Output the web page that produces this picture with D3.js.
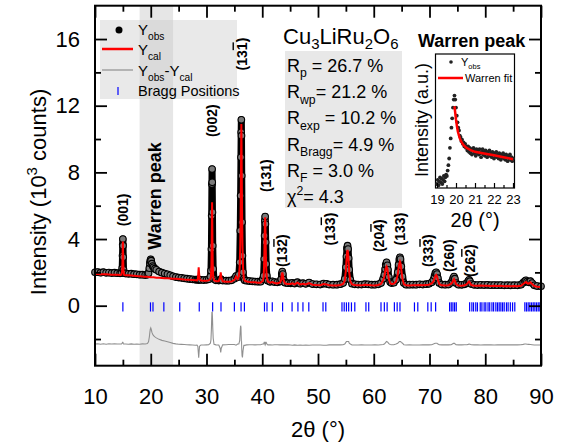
<!DOCTYPE html>
<html>
<head>
<meta charset="utf-8">
<script src="https://cdn.jsdelivr.net/npm/d3@7"></script>
<style>
body{margin:0;background:#fff;}
svg{font-family:"Liberation Sans",Arial,sans-serif;}
</style>
</head>
<body>
<div id="chart"></div>
<script>
// 2theta grid (deg), calculated and observed intensity (10^3 counts)
var tt = [10,10.5,11,11.5,12,12.5,13,13.5,14,14.5,
  14.75,14.88,14.94,14.97,15.0,15.03,15.06,15.12,15.25,
  15.5,16,16.5,17,17.5,18,18.5,19,19.4,
  19.6,19.75,19.85,19.92,20.0,20.08,20.2,20.35,20.5,20.75,21,21.5,22,22.5,23,23.5,24,
  24.5,25,25.5,26,26.5,27,27.5,28,28.3,
  28.45,28.55,28.6,28.65,28.75,
  29,29.5,30,30.4,30.7,
  30.8,30.88,30.93,30.97,31.0,31.03,31.07,31.12,31.2,31.35,
  31.7,32.2,32.45,32.55,32.65,32.9,
  33.5,34,34.5,35,35.3,35.6,
  35.8,35.95,36.05,36.12,36.18,36.22,36.25,36.28,36.32,36.38,36.45,36.55,36.7,36.85,
  37.2,37.7,38.2,38.7,39.2,39.7,40.1,
  40.25,40.35,40.42,40.47,40.52,40.57,40.62,40.7,40.82,41.0,
  41.4,41.8,42.2,42.7,43.2,
  43.4,43.5,43.6,43.7,43.85,44.1,
  44.6,45.1,45.4,45.8,46.3,46.8,47.3,47.8,48.4,49,49.7,50.4,51,51.5,52,52.7,53.4,54,54.5,
  54.8,55.0,55.1,55.2,55.3,55.4,55.5,55.6,55.8,56.1,
  56.6,57.2,57.8,58.4,59.0,59.6,60.2,60.8,61.3,61.7,
  61.9,62.05,62.15,62.3,62.45,62.55,62.7,62.95,
  63.2,63.6,64.0,64.3,
  64.45,64.6,64.7,64.8,64.95,65.15,65.4,
  65.8,66.4,67.0,67.6,68.2,68.8,69.4,69.9,70.4,
  70.7,70.9,71.05,71.2,71.35,71.5,71.75,
  72.2,72.8,73.4,73.9,
  74.1,74.25,74.4,74.55,74.75,
  75.2,75.8,76.3,76.7,
  76.95,77.1,77.25,77.5,
  78.0,78.6,79.2,79.8,80.4,81.0,81.6,82.2,82.8,83.4,84.0,84.6,85.2,85.8,86.4,86.8,
  87.1,87.3,87.5,87.8,88.1,88.4,88.8,
  89.3,90];

var yCal = [1.90,1.90,1.89,1.89,1.88,1.87,1.86,1.86,1.85,1.84,
  1.86,2.10,2.80,3.45,3.85,3.40,2.75,2.05,1.85,
  1.83,1.82,1.81,1.80,1.78,1.77,1.75,1.74,1.73,
  1.72,1.72,1.72,1.71,1.71,1.71,1.71,1.70,1.70,1.69,1.68,1.67,1.66,1.65,1.64,1.63,1.62,
  1.61,1.60,1.59,1.57,1.56,1.55,1.54,1.53,1.52,
  1.60,2.05,2.30,2.05,1.58,
  1.51,1.50,1.50,1.52,1.60,
  1.75,2.40,3.80,5.30,6.20,5.40,3.90,2.50,1.75,1.52,
  1.47,1.47,1.70,2.00,1.70,1.46,
  1.44,1.43,1.45,1.55,1.75,1.60,
  1.75,2.30,3.60,5.40,7.80,9.80,10.90,9.90,8.00,5.60,3.70,2.30,1.60,1.50,
  1.45,1.42,1.40,1.40,1.38,1.38,1.50,
  1.70,2.60,4.00,5.00,5.30,4.80,3.60,2.30,1.70,1.45,
  1.38,1.42,1.36,1.34,1.40,
  1.55,1.85,2.00,1.85,1.50,1.33,
  1.30,1.30,1.34,1.28,1.38,1.28,1.32,1.27,1.36,1.26,1.24,1.23,1.30,1.28,1.22,1.21,1.21,1.24,1.30,
  1.50,2.10,2.70,3.20,3.35,3.15,2.60,2.00,1.45,1.28,
  1.24,1.23,1.22,1.25,1.24,1.22,1.21,1.24,1.30,1.55,
  1.75,2.05,2.25,2.35,2.20,1.95,1.60,1.35,
  1.30,1.32,1.45,1.85,
  2.25,2.55,2.65,2.55,2.15,1.60,1.30,
  1.22,1.21,1.23,1.22,1.24,1.22,1.24,1.26,1.34,
  1.45,1.65,1.80,1.85,1.75,1.55,1.30,
  1.22,1.21,1.22,1.32,
  1.40,1.52,1.60,1.50,1.30,
  1.21,1.20,1.22,1.30,
  1.40,1.45,1.38,1.24,
  1.20,1.19,1.21,1.19,1.20,1.18,1.20,1.18,1.19,1.17,1.18,1.17,1.18,1.17,1.20,1.30,
  1.38,1.42,1.36,1.32,1.40,1.30,1.18,
  1.14,1.12];

var yObs = [2.00,2.02,1.98,2.01,1.97,1.99,1.96,1.98,1.95,1.94,
  1.96,2.25,3.00,3.65,4.00,3.60,2.90,2.15,1.95,
  1.93,1.91,1.92,1.89,1.88,1.86,1.86,1.84,1.86,
  1.95,2.25,2.55,2.70,2.78,2.70,2.52,2.38,2.30,2.22,2.15,2.05,1.98,1.93,1.88,1.82,1.76,
  1.72,1.69,1.67,1.64,1.62,1.60,1.58,1.56,1.56,
  1.56,1.57,1.58,1.57,1.55,
  1.55,1.54,1.55,1.58,1.75,
  2.10,3.40,5.40,7.30,8.20,7.40,5.60,3.60,2.20,1.60,
  1.52,1.51,1.55,1.60,1.55,1.51,
  1.50,1.50,1.52,1.62,1.78,1.70,
  1.85,2.60,4.50,6.60,8.90,10.40,11.15,10.20,7.80,5.00,3.00,2.00,1.62,1.52,
  1.50,1.48,1.46,1.45,1.44,1.44,1.60,
  1.80,2.80,4.20,5.10,5.35,4.90,3.80,2.50,1.80,1.50,
  1.43,1.46,1.42,1.40,1.45,
  1.60,1.90,2.05,1.90,1.55,1.38,
  1.35,1.34,1.37,1.33,1.41,1.32,1.35,1.31,1.39,1.30,1.28,1.27,1.33,1.31,1.27,1.26,1.26,1.29,1.36,
  1.60,2.30,2.95,3.45,3.60,3.40,2.85,2.15,1.55,1.32,
  1.28,1.27,1.27,1.29,1.28,1.26,1.26,1.28,1.36,1.62,
  1.85,2.20,2.45,2.60,2.42,2.15,1.72,1.42,
  1.36,1.38,1.55,2.00,
  2.45,2.80,2.90,2.80,2.35,1.75,1.36,
  1.26,1.26,1.27,1.26,1.28,1.27,1.29,1.31,1.40,
  1.55,1.78,1.95,2.00,1.90,1.65,1.36,
  1.27,1.26,1.27,1.38,
  1.50,1.65,1.75,1.62,1.36,
  1.26,1.25,1.28,1.36,
  1.48,1.55,1.47,1.30,
  1.25,1.24,1.25,1.24,1.25,1.23,1.24,1.23,1.24,1.22,1.23,1.22,1.23,1.22,1.26,1.38,
  1.48,1.52,1.45,1.40,1.47,1.36,1.22,
  1.18,1.16];

// offset of the difference curve
var diffOffset = -2.4;

// Bragg reflection positions (2theta)
var bragg = [15.0,19.95,20.4,22.35,25.2,28.7,31.1,32.6,35.0,36.2,36.8,40.4,40.85,41.8,43.65,
  45.35,46.4,47.3,48.35,50.9,51.4,54.3,54.7,55.1,55.5,56.0,56.6,58.6,59.1,61.3,61.9,62.4,
  63.7,64.2,64.7,67.3,67.9,69.7,70.3,71.1,73.6,73.9,74.2,74.5,74.8,
  77.2,77.6,77.9,78.3,78.6,79.1,79.4,79.8,80.1,80.5,80.8,81.2,81.5,81.9,82.2,82.5,82.8,83.1,
  83.4,83.8,84.1,84.5,84.9,85.3,87.1,87.4,87.7,88.0,88.3,88.6,88.9,89.2,89.5,89.8];

// hkl labels: position (2theta, intensity), text, overlined last digit
var hklPos = [15.0, 31.0, 36.3, 40.6, 43.6, 52.1, 61.0, 64.7, 69.8, 73.6, 77.3];
var hklY   = [5.75, 11.1, 15.1, 7.8, 3.3, 4.6, 4.2, 4.6, 3.3, 3.0, 2.7];
var hklTxt = ["001","002","131","131","132","133","204","133","333","260","262"];
var hklBar = [false,false,true,false,true,true,true,false,true,false,true];

var yTicksMajor = [0,4,8,12,16];
var yTicksMinor = [-2,2,6,10,14];
var xTicksMajor = [10,20,30,40,50,60,70,80,90];
var xTicksMinor = [15,25,35,45,55,65,75,85];

var stats = [["R","p"," = 26.7 %"],["R","wp","= 21.2 %"],["R","exp"," = 10.2 %"],
             ["R","Bragg","= 4.9 %"],["R","F"," = 3.0 %"]];

// inset: Warren peak zoom
var insX = [19.00,19.04,19.08,19.12,19.16,19.20,19.24,19.28,19.32,19.36,19.40,19.44,19.48,19.52,19.56,
  19.60,19.64,19.68,19.72,19.76,19.80,19.84,19.88,19.92,19.96,20.00,20.04,20.08,20.12,20.16,20.20,
  20.24,20.28,20.32,20.36,20.40,20.44,20.48,20.52,20.56,20.60,20.64,20.68,20.72,20.76,20.80,20.84,
  20.88,20.92,20.96,21.00,21.04,21.08,21.12,21.16,21.20,21.24,21.28,21.32,21.36,21.40,21.44,21.48,
  21.52,21.56,21.60,21.64,21.68,21.72,21.76,21.80,21.84,21.88,21.92,21.96,22.00,22.04,22.08,22.12,
  22.16,22.20,22.24,22.28,22.32,22.36,22.40,22.44,22.48,22.52,22.56,22.60,22.64,22.68,22.72,22.76,
  22.80,22.84,22.88,22.92,22.96,23.00];
var insObs = [0.03,0.06,0.02,0.05,0.08,0.04,0.07,0.03,0.06,0.09,0.05,0.08,0.10,0.09,0.13,
  0.17,0.22,0.30,0.37,0.45,0.52,0.60,0.66,0.69,0.66,0.60,0.54,0.49,0.45,0.43,0.39,
  0.38,0.35,0.36,0.33,0.34,0.31,0.33,0.30,0.31,0.28,0.31,0.27,0.30,0.26,0.29,0.25,
  0.28,0.30,0.26,0.28,0.24,0.29,0.26,0.28,0.25,0.29,0.26,0.23,0.27,0.29,0.25,0.27,
  0.24,0.28,0.26,0.23,0.27,0.25,0.28,0.24,0.26,0.23,0.27,0.25,0.22,0.26,0.24,0.27,
  0.23,0.25,0.22,0.26,0.24,0.21,0.25,0.23,0.26,0.22,0.24,0.21,0.25,0.23,0.20,0.24,
  0.22,0.25,0.21,0.23,0.20,0.22];
var fitX = [19.92,19.96,20.0,20.05,20.1,20.2,20.3,20.4,20.55,20.8,21.0,21.4,22.0,22.5,23.0];
var fitY = [0.61,0.56,0.51,0.46,0.42,0.37,0.34,0.32,0.30,0.28,0.27,0.26,0.245,0.23,0.215];

var W = 568, H = 445;
var svg = d3.select("#chart").append("svg").attr("width", W).attr("height", H);

var pL = 95, pR = 541, pT = 5.7, pB = 365.7;
var x = d3.scaleLinear().domain([10, 90]).range([pL, pR]);
var y = d3.scaleLinear().domain([-3.6, 18]).range([pB, pT]);

// shaded Warren region
svg.append("rect").attr("x", x(18)).attr("y", pT).attr("width", x(24) - x(18))
  .attr("height", pB - pT).attr("fill", "#c8c8c8").attr("opacity", 0.45);

// stats box
svg.append("rect").attr("x", 285).attr("y", 51).attr("width", 117).attr("height", 157).attr("fill", "#e8e8e8");
// legend box
svg.append("rect").attr("x", 100).attr("y", 20).attr("width", 137).attr("height", 79)
  .attr("fill", "#c8c8c8").attr("opacity", 0.4);

function addRich(sel, parts, size, subK) {
  var shift = 0;
  var sk = subK || 0.3;
  sel.attr("font-size", size);
  parts.forEach(function (p) {
    var target = p[1] === "sub" ? size * sk : p[1] === "sup" ? -size * 0.42 : 0;
    sel.append("tspan").attr("dy", target - shift)
      .attr("font-size", p[1] ? size * 0.68 : size).text(p[0]);
    shift = target;
  });
  return sel;
}

// data: difference
var diffLine = d3.line().x(function (d, i) { return x(tt[i]); })
  .y(function (d, i) { return y(yObs[i] - yCal[i] + diffOffset); });
svg.append("path").datum(tt).attr("d", diffLine).attr("fill", "none")
  .attr("stroke", "#909090").attr("stroke-width", 1.1);

// bragg ticks
svg.append("g").selectAll("line").data(bragg).enter().append("line")
  .attr("x1", function (d) { return x(d); }).attr("x2", function (d) { return x(d); })
  .attr("y1", y(0.2)).attr("y2", y(-0.35))
  .attr("stroke", "#0000ff").attr("stroke-width", 1.2);

// observed
var obsLine = d3.line().x(function (d, i) { return x(tt[i]); }).y(function (d, i) { return y(yObs[i]); });
svg.append("path").datum(tt).attr("d", obsLine).attr("fill", "none")
  .attr("stroke", "#000").attr("stroke-width", 7).attr("stroke-linejoin", "round");
svg.append("g").selectAll("circle").data(tt).enter().append("circle")
  .attr("cx", function (d) { return x(d); }).attr("cy", function (d, i) { return y(yObs[i]); })
  .attr("r", 3.3).attr("fill", "#7a7a7a").attr("stroke", "#000").attr("stroke-width", 1.1);

// calculated
var calLine = d3.line().x(function (d, i) { return x(tt[i]); }).y(function (d, i) { return y(yCal[i]); });
svg.append("path").datum(tt).attr("d", calLine).attr("fill", "none")
  .attr("stroke", "#ff0000").attr("stroke-width", 2);

// axes
function styleAxis(g) {
  g.select(".domain").remove();
  g.selectAll(".tick line").attr("stroke", "#000").attr("stroke-width", 1.8);
  g.selectAll("text").attr("font-size", 22).attr("font-family", "Liberation Sans, Arial, sans-serif").attr("fill", "#000");
}
svg.append("g").attr("transform", "translate(0," + pB + ")")
  .call(d3.axisBottom(x).tickValues(xTicksMajor).tickSize(-12).tickPadding(23).tickFormat(d3.format("d"))).call(styleAxis);
svg.append("g").attr("transform", "translate(0," + pB + ")")
  .call(d3.axisBottom(x).tickValues(xTicksMinor).tickSize(-6).tickFormat("")).call(styleAxis);
svg.append("g").attr("transform", "translate(0," + pT + ")")
  .call(d3.axisTop(x).tickValues(xTicksMajor).tickSize(-12).tickFormat("")).call(styleAxis);
svg.append("g").attr("transform", "translate(0," + pT + ")")
  .call(d3.axisTop(x).tickValues(xTicksMinor).tickSize(-6).tickFormat("")).call(styleAxis);
svg.append("g").attr("transform", "translate(" + pL + ",0)")
  .call(d3.axisLeft(y).tickValues(yTicksMajor).tickSize(-12).tickPadding(15).tickFormat(d3.format("d"))).call(styleAxis);
svg.append("g").attr("transform", "translate(" + pL + ",0)")
  .call(d3.axisLeft(y).tickValues(yTicksMinor).tickSize(-6).tickFormat("")).call(styleAxis);
svg.append("g").attr("transform", "translate(" + pR + ",0)")
  .call(d3.axisRight(y).tickValues(yTicksMajor).tickSize(-12).tickFormat("")).call(styleAxis);
svg.append("g").attr("transform", "translate(" + pR + ",0)")
  .call(d3.axisRight(y).tickValues(yTicksMinor).tickSize(-6).tickFormat("")).call(styleAxis);

svg.append("rect").attr("x", pL).attr("y", pT).attr("width", pR - pL).attr("height", pB - pT)
  .attr("fill", "none").attr("stroke", "#000").attr("stroke-width", 2);

// axis titles
svg.append("text").attr("x", (pL + pR) / 2).attr("y", 437).attr("text-anchor", "middle")
  .attr("font-size", 22).text("2\u03b8 (\u00b0)");
addRich(svg.append("text").attr("transform", "translate(46,192) rotate(-90)").attr("text-anchor", "middle"),
  [["Intensity (10", ""], ["3", "sup"], [" counts)", ""]], 22);

// Warren peak label
svg.append("text").attr("transform", "translate(161,196) rotate(-90)").attr("text-anchor", "middle")
  .attr("font-size", 18).attr("font-weight", "bold").text("Warren peak");

// hkl labels
hklTxt.forEach(function (t, i) {
  var tx = svg.append("text").attr("transform", "translate(" + x(hklPos[i]) + "," + y(hklY[i]) + ") rotate(-90)")
    .attr("text-anchor", "middle").attr("dy", "0.35em").attr("font-size", 14).attr("font-weight", "bold");
  if (hklBar[i]) {
    tx.append("tspan").text("(" + t.slice(0, 2));
    tx.append("tspan").style("text-decoration", "overline").text(t.slice(2));
    tx.append("tspan").text(")");
  } else {
    tx.text("(" + t + ")");
  }
});

// legend
svg.append("circle").attr("cx", 119).attr("cy", 30).attr("r", 3.5).attr("fill", "#000");
svg.append("line").attr("x1", 102).attr("x2", 133).attr("y1", 49).attr("y2", 49).attr("stroke", "#ff0000").attr("stroke-width", 2.5);
svg.append("line").attr("x1", 102).attr("x2", 133).attr("y1", 70).attr("y2", 70).attr("stroke", "#a0a0a0").attr("stroke-width", 1.5);
svg.append("line").attr("x1", 118).attr("x2", 118).attr("y1", 87).attr("y2", 95).attr("stroke", "#0000ff").attr("stroke-width", 1.2);
addRich(svg.append("text").attr("x", 138).attr("y", 35), [["Y", ""], ["obs", "sub"]], 15);
addRich(svg.append("text").attr("x", 138).attr("y", 55), [["Y", ""], ["cal", "sub"]], 15);
addRich(svg.append("text").attr("x", 138).attr("y", 76), [["Y", ""], ["obs", "sub"], ["-Y", ""], ["cal", "sub"]], 15);
svg.append("text").attr("x", 138).attr("y", 96).attr("font-size", 14.5).text("Bragg Positions");

// compound and stats
addRich(svg.append("text").attr("x", 283).attr("y", 44),
  [["Cu", ""], ["3", "sub"], ["LiRu", ""], ["2", "sub"], ["O", ""], ["6", "sub"]], 22, 0.22);
stats.forEach(function (s, i) {
  addRich(svg.append("text").attr("x", 287).attr("y", 72 + i * 26.2),
    [[s[0], ""], [s[1], "sub"], [s[2], ""]], 18);
});
addRich(svg.append("text").attr("x", 287).attr("y", 72 + 5 * 26.2),
  [["\u03c7", ""], ["2", "sup"], ["= 4.3", ""]], 18);

// inset
var xi = d3.scaleLinear().domain([19, 23]).range([437, 513]);
var yi = d3.scaleLinear().domain([0, 1]).range([188, 54]);
svg.append("text").attr("x", 418).attr("y", 47).attr("font-size", 18).attr("font-weight", "bold").text("Warren peak");
svg.append("rect").attr("x", 435.5).attr("y", 54).attr("width", 79).attr("height", 134)
  .attr("fill", "#fff").attr("stroke", "#000").attr("stroke-width", 1.2);
svg.append("g").selectAll("circle").data(insX).enter().append("circle")
  .attr("cx", function (d) { return xi(d); }).attr("cy", function (d, i) { return yi(insObs[i]); })
  .attr("r", 1.9).attr("fill", "#222");
var fitLine = d3.line().x(function (d, i) { return xi(fitX[i]); }).y(function (d, i) { return yi(fitY[i]); });
svg.append("path").datum(fitX).attr("d", fitLine).attr("fill", "none").attr("stroke", "#ff0000").attr("stroke-width", 2.5);
svg.append("g").attr("transform", "translate(0,188)")
  .call(d3.axisBottom(xi).tickValues([19, 20, 21, 22, 23]).tickSize(-5).tickPadding(7).tickFormat(d3.format("d")))
  .call(function (g) {
    g.select(".domain").remove();
    g.selectAll(".tick line").attr("stroke", "#000").attr("stroke-width", 1.2);
    g.selectAll("text").attr("font-size", 13).attr("font-family", "Liberation Sans, Arial, sans-serif").attr("fill", "#000");
  });
svg.append("g").attr("transform", "translate(0,188)")
  .call(d3.axisBottom(xi).tickValues([19.5, 20.5, 21.5, 22.5]).tickSize(-3).tickFormat(""))
  .call(function (g) {
    g.select(".domain").remove();
    g.selectAll(".tick line").attr("stroke", "#000").attr("stroke-width", 1.2);
  });
svg.append("text").attr("x", 475).attr("y", 227).attr("text-anchor", "middle").attr("font-size", 20).text("2\u03b8 (\u00b0)");
svg.append("text").attr("transform", "translate(428,120) rotate(-90)").attr("text-anchor", "middle")
  .attr("font-size", 18).text("Intensity (a.u.)");
svg.append("circle").attr("cx", 451).attr("cy", 62).attr("r", 1.8).attr("fill", "#222");
addRich(svg.append("text").attr("x", 461).attr("y", 66), [["Y", ""], ["obs", "sub"]], 11);
svg.append("line").attr("x1", 438).attr("x2", 463).attr("y1", 78).attr("y2", 78).attr("stroke", "#ff0000").attr("stroke-width", 2.5);
svg.append("text").attr("x", 465).attr("y", 82).attr("font-size", 11).text("Warren fit");
</script>
</body>
</html>
